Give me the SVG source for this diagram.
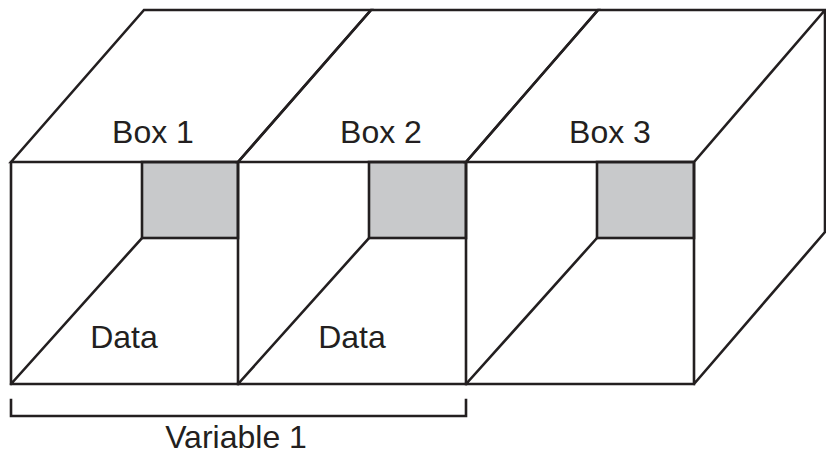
<svg xmlns="http://www.w3.org/2000/svg" width="826" height="455" viewBox="0 0 826 455">
<style>
.ln{fill:none;stroke:#231f20;stroke-width:2.6;stroke-linejoin:miter;stroke-linecap:square}
.gr{fill:#c8c9cb;stroke:#231f20;stroke-width:2.6}
.tx{font-family:"Liberation Sans",Arial,sans-serif;font-size:32px;fill:#231f20;text-anchor:middle}
</style>
<rect width="826" height="455" fill="#fff"/>
<g id="box1">
<rect class="gr" x="142" y="162" width="96" height="76"/>
<path class="ln" d="M11,162 L144,10 L371,10 L238,162 Z M11,162 V384 H238 V162 M11,384 L142,238"/>
<text class="tx" x="153" y="143">Box 1</text>
<text class="tx" x="124" y="348">Data</text>
</g>
<g id="box2">
<rect class="gr" x="369" y="162" width="97" height="76"/>
<path class="ln" d="M238,162 L371,10 L598,10 L466,162 Z M238,384 H466 V162 M238,384 L369,238"/>
<text class="tx" x="381" y="143">Box 2</text>
<text class="tx" x="352" y="348">Data</text>
</g>
<g id="box3">
<rect class="gr" x="597" y="162" width="97" height="76"/>
<path class="ln" d="M466,162 L598,10 L825,10 L694,162 Z M466,384 H694 V162 M466,384 L597,238 M694,384 L825,232 V10"/>
<text class="tx" x="610" y="143">Box 3</text>
</g>
<g id="variable1">
<path class="ln" d="M11,400 V416 H466 V400" stroke-linecap="butt"/>
<text class="tx" x="236" y="448">Variable 1</text>
</g>
<g id="connectors"></g>
</svg>
